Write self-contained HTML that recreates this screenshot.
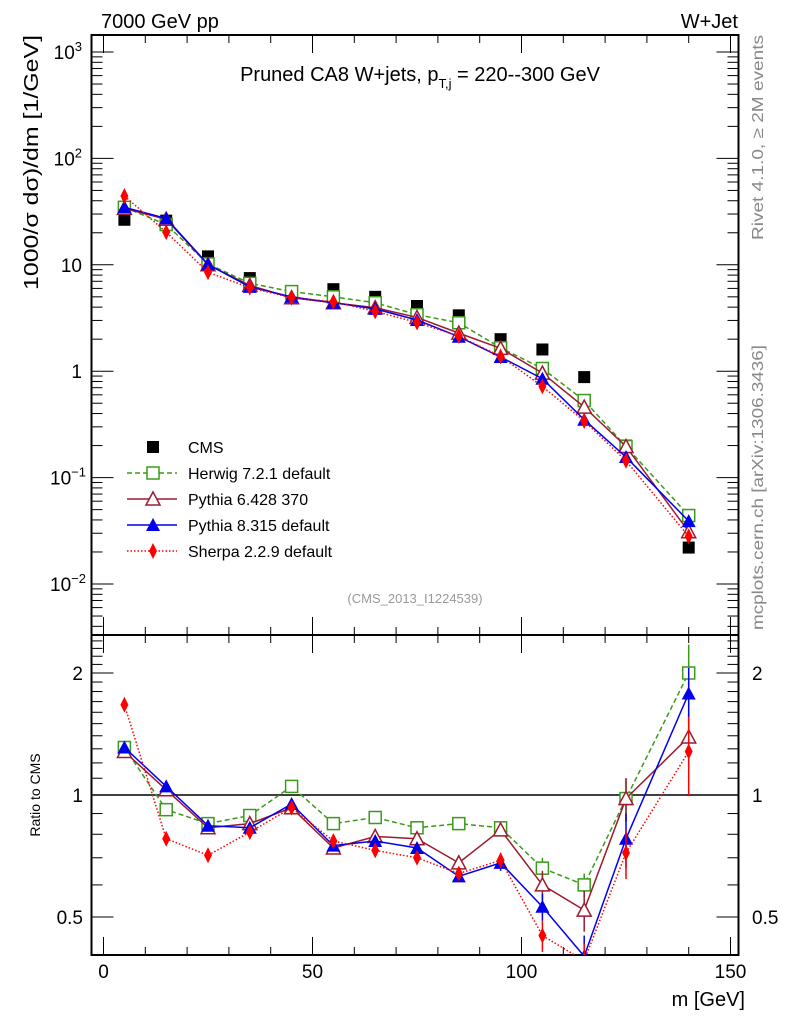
<!DOCTYPE html>
<html><head><meta charset="utf-8"><style>
body{margin:0;background:#fff;}
svg text{font-family:"Liberation Sans",sans-serif;}
</style></head><body>
<svg id="c" width="786" height="1024" xmlns="http://www.w3.org/2000/svg">
<text x="101" y="28" font-size="20">7000 GeV pp</text>
<text x="738" y="28" font-size="20" text-anchor="end">W+Jet</text>
<text x="420" y="81" font-size="20" text-anchor="middle">Pruned CA8 W+jets, p<tspan dy="7" font-size="13">T,j</tspan><tspan dy="-7"> = 220--300 GeV</tspan></text>
<text x="415" y="603" font-size="13" fill="#999" text-anchor="middle">(CMS_2013_I1224539)</text>
<text transform="translate(763,240) rotate(-90)" font-size="16" fill="#888" textLength="205" lengthAdjust="spacingAndGlyphs">Rivet 4.1.0, ≥ 2M events</text>
<text transform="translate(763,630) rotate(-90)" font-size="16" fill="#888" textLength="285" lengthAdjust="spacingAndGlyphs">mcplots.cern.ch [arXiv:1306.3436]</text>
<text transform="translate(38,290) rotate(-90)" font-size="20" textLength="255" lengthAdjust="spacingAndGlyphs">1000/σ   dσ)/dm [1/GeV]</text>
<text transform="translate(40,795) rotate(-90)" font-size="14" text-anchor="middle">Ratio to CMS</text>
<text x="745" y="1006" font-size="20" text-anchor="end">m [GeV]</text>
<g id="g"></g>
<g>
<rect x="147" y="441" width="12" height="12" fill="#000"/>
<text x="188" y="453" font-size="16">CMS</text>
<line x1="127" y1="473" x2="177" y2="473" stroke="#3a9a1a" stroke-width="1.5" stroke-dasharray="5,3"/>
<rect x="147" y="467" width="12" height="12" fill="#fff" stroke="#3a9a1a" stroke-width="1.5"/>
<text x="188" y="479" font-size="16">Herwig 7.2.1 default</text>
<line x1="127" y1="499" x2="177" y2="499" stroke="#9b1b30" stroke-width="1.5"/>
<polygon points="153,492 160,505 146,505" fill="#fff" stroke="#9b1b30" stroke-width="1.5"/>
<text x="188" y="505" font-size="16">Pythia 6.428 370</text>
<line x1="127" y1="525" x2="177" y2="525" stroke="#0000ee" stroke-width="1.5"/>
<polygon points="153,518 160,531 146,531" fill="#0000ee"/>
<text x="188" y="531" font-size="16">Pythia 8.315 default</text>
<line x1="127" y1="551" x2="177" y2="551" stroke="#f00" stroke-width="1.5" stroke-dasharray="1.5,2"/>
<polygon points="153,543 157,551 153,559 149,551" fill="#f00"/>
<text x="188" y="557" font-size="16">Sherpa 2.2.9 default</text>
</g>
</svg>
<script>
const massBins=[5,15,25,35,45,55,65,75,85,95,105,115,125,140];
const cmsValues=[26.5,26,12,7.5,5.3,5.9,5.0,4.1,3.35,2.0,1.6,0.88,0.2,0.022];
const herwigValues=[34.7,23.9,10.2,6.7,5.6,5.0,4.4,3.4,2.85,1.66,1.06,0.53,0.196,0.044];
const pythia6Values=[33.9,26.8,10.0,6.4,4.9,4.4,3.95,3.2,2.28,1.64,0.96,0.46,0.196,0.031];
const pythia8Values=[34.7,27.3,10.1,6.2,5.0,4.4,3.85,3.03,2.11,1.36,0.85,0.35,0.156,0.039];
const sherpaValues=[44.3,20.3,8.5,6.1,4.9,4.5,3.65,2.87,2.14,1.38,0.72,0.34,0.144,0.028];
const herwigRatio=[1.31,0.92,0.85,0.89,1.05,0.85,0.88,0.83,0.85,0.83,0.66,0.60,0.98,2.0];
const pythia6Ratio=[1.28,1.03,0.83,0.85,0.93,0.74,0.79,0.78,0.68,0.82,0.60,0.52,0.98,1.39];
const pythia8Ratio=[1.31,1.05,0.84,0.83,0.95,0.75,0.77,0.74,0.63,0.68,0.53,0.40,0.78,1.78];
const sherpaRatio=[1.67,0.78,0.71,0.81,0.93,0.77,0.73,0.70,0.64,0.69,0.45,0.39,0.72,1.28];
const herwigErr=[0,0,0,0,0,0,0,0,0,0.03,0.04,0.04,0.12,0.35];
const pythia6Err=[0,0,0,0,0,0,0,0,0.03,0.03,0.05,0.06,0.12,0.2];
const pythia8Err=[0,0,0,0,0,0,0,0,0,0.03,0.04,0.05,0.12,0.28];
const sherpaErr=[0,0,0,0,0,0,0,0,0,0.03,0.04,0.04,0.1,0.28];
const xTicks=[0,50,100,150];
const ratioTicks=[0.5,1,2];
const mainExps=[-2,-1,0,1,2,3];

const NS='http://www.w3.org/2000/svg';
const g=document.getElementById('g');
const L=91.5,R=738.5,T=35,MB=635,RB=955;
const xs=v=>103.5+v*4.18;
const ym=v=>52+(3-Math.log10(v))*106.4;
const yr=v=>795-Math.log2(v)*122;
function mk(t,a,p){const e=document.createElementNS(NS,t);for(const k in a)e.setAttribute(k,a[k]);(p||g).appendChild(e);return e;}
function ln(x1,y1,x2,y2,w){return mk('line',{x1,y1,x2,y2,stroke:'#000','stroke-width':w||1});}
const f1=mk('rect',{x:L,y:T,width:R-L,height:MB-T,fill:'none',stroke:'#000','stroke-width':2});


const f2=mk('rect',{x:L,y:MB,width:R-L,height:RB-MB,fill:'none',stroke:'#000','stroke-width':2});


for(let v=0;v<=150;v+=10){const maj=v%50==0;const x=xs(v);const h=maj?18:8;
 ln(x,T,x,T+h);ln(x,MB,x,MB-h);ln(x,MB,x,MB+h);ln(x,RB,x,RB-h);}
xTicks.forEach(v=>{const t=mk('text',{x:xs(v),y:978,'font-size':19,'text-anchor':'middle'});t.textContent=v;
 
 });
for(let e=-3;e<=3;e++){for(let m=1;m<10;m++){const v=m*Math.pow(10,e);const y=ym(v);if(y<T||y>MB)continue;const h=m==1?22:11;
 ln(L,y,L+h,y);ln(R,y,R-h,y);}}
mainExps.forEach(e=>{const y=ym(Math.pow(10,e));
 const t=mk('text',{x:82,y:y+7,'font-size':19,'text-anchor':'end'});
 
 
 if(e==0)t.textContent='1';else if(e==1)t.textContent='10';
 if(e>=2||e<0){const a=document.createElementNS(NS,'tspan');a.textContent='10';t.appendChild(a);
  const b=document.createElementNS(NS,'tspan');b.setAttribute('dy','-8');b.setAttribute('font-size','13');b.textContent=e<0?'−'+(-e):e;t.appendChild(b);t.setAttribute('x',e<0?86:82);}
});
for(let v=0.4;v<=2.5;v+=0.1){const y=yr(v);if(y<MB||y>RB)continue;const maj=[0.5,1,2].some(q=>Math.abs(q-v)<1e-6);const h=maj?22:11;ln(L,y,L+h,y);ln(R,y,R-h,y);}
ratioTicks.forEach(v=>{const y=yr(v);[[83,'end'],[752,'start']].forEach(([x,a])=>{const t=mk('text',{x,y:y+7,'font-size':19,'text-anchor':a});t.textContent=v;
 
 });});
const one=ln(L,yr(1),R,yr(1),1.5);


const defs=mk('defs',{});
const c1=mk('clipPath',{id:'cm'},defs);mk('rect',{x:L,y:T,width:R-L,height:MB-T},c1);
const c2=mk('clipPath',{id:'cr'},defs);mk('rect',{x:L,y:MB,width:R-L,height:RB-MB},c2);
const gm=mk('g',{'clip-path':'url(#cm)'});const gr=mk('g',{'clip-path':'url(#cr)'});
function marker(p,type,col,x,y){
 if(type=='sq'){return mk('rect',{x:x-6,y:y-6,width:12,height:12,fill:'#fff',stroke:col,'stroke-width':1.5},p);}
 if(type=='otri'){return mk('polygon',{points:`${x},${y-7} ${x+7},${y+6} ${x-7},${y+6}`,fill:'#fff',stroke:col,'stroke-width':1.5},p);}
 if(type=='tri'){return mk('polygon',{points:`${x},${y-7} ${x+7},${y+6} ${x-7},${y+6}`,fill:col},p);}
 if(type=='dia'){return mk('polygon',{points:`${x},${y-8} ${x+4},${y} ${x},${y+8} ${x-4},${y}`,fill:col},p);}
}
const series=[
 ['herwig','#3a9a1a','5,3','sq',herwigValues,herwigRatio,herwigErr],
 ['pythia6','#9b1b30','','otri',pythia6Values,pythia6Ratio,pythia6Err],
 ['pythia8','#0000ee','','tri',pythia8Values,pythia8Ratio,pythia8Err],
 ['sherpa','#f00','1.5,2','dia',sherpaValues,sherpaRatio,sherpaErr]];
cmsValues.forEach((v,i)=>{const r=mk('rect',{x:xs(massBins[i])-6,y:ym(v)-6,width:12,height:12,fill:'#000'},gm);
 
 });
series.forEach(([n,col,da,mt,vals,rat,err])=>{
 err.forEach((e,i)=>{if(!e)return;const x=xs(massBins[i]);const v=rat[i];
  const eb=mk('line',{x1:x,x2:x,y1:yr(v+e),y2:yr(Math.max(v-e,0.3)),stroke:col,'stroke-width':1.5},gr);
  
  });
 [[gm,vals,ym],[gr,rat,yr]].forEach(([p,arr,yf])=>{
  const pl=mk('polyline',{points:arr.map((v,i)=>xs(massBins[i])+','+yf(v)).join(' '),fill:'none',stroke:col,'stroke-width':1.5,'stroke-dasharray':da||'none'},p);
  
  
  arr.forEach((v,i)=>{const m=marker(p,mt,col,xs(massBins[i]),yf(v));
   
   });
 });
});
</script>
</body></html>
